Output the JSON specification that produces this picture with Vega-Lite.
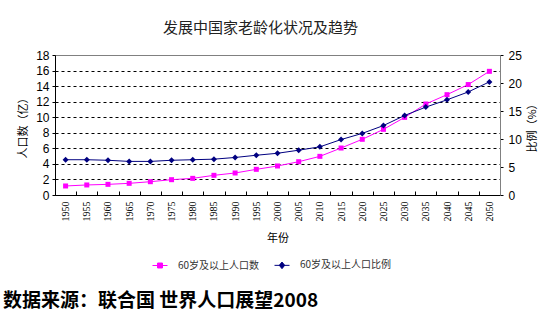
{
  "$schema": "https://vega.github.io/schema/vega-lite/v6.json",
  "width": 445,
  "height": 140,
  "autosize": {"type": "none"},
  "padding": {"left": 55, "top": 55, "right": 55, "bottom": 127},
  "background": "white",
  "config": {
    "view": {"stroke": "#808080", "strokeWidth": 1},
    "font": "Liberation Sans",
    "axis": {"labelColor": "#000", "titleColor": "#000", "domainColor": "#000", "tickColor": "#000", "titleFontWeight": "normal"}
  },
  "title": {
    "text": "数据来源：联合国 世界人口展望2008",
    "orient": "bottom",
    "anchor": "start",
    "frame": "group",
    "dx": -52,
    "offset": 21,
    "font": "Noto Sans CJK SC",
    "fontSize": 19,
    "fontWeight": "bold",
    "color": "#000"
  },
  "data": {
    "values": [
      {"year": "1950", "s": "60岁及以上人口数", "v": 1.16},
      {"year": "1955", "s": "60岁及以上人口数", "v": 1.29},
      {"year": "1960", "s": "60岁及以上人口数", "v": 1.37},
      {"year": "1965", "s": "60岁及以上人口数", "v": 1.5},
      {"year": "1970", "s": "60岁及以上人口数", "v": 1.71},
      {"year": "1975", "s": "60岁及以上人口数", "v": 1.97},
      {"year": "1980", "s": "60岁及以上人口数", "v": 2.14},
      {"year": "1985", "s": "60岁及以上人口数", "v": 2.53},
      {"year": "1990", "s": "60岁及以上人口数", "v": 2.83},
      {"year": "1995", "s": "60岁及以上人口数", "v": 3.3},
      {"year": "2000", "s": "60岁及以上人口数", "v": 3.73},
      {"year": "2005", "s": "60岁及以上人口数", "v": 4.28},
      {"year": "2010", "s": "60岁及以上人口数", "v": 4.97},
      {"year": "2015", "s": "60岁及以上人口数", "v": 6.04},
      {"year": "2020", "s": "60岁及以上人口数", "v": 7.16},
      {"year": "2025", "s": "60岁及以上人口数", "v": 8.44},
      {"year": "2030", "s": "60岁及以上人口数", "v": 9.98},
      {"year": "2035", "s": "60岁及以上人口数", "v": 11.7},
      {"year": "2040", "s": "60岁及以上人口数", "v": 12.9},
      {"year": "2045", "s": "60岁及以上人口数", "v": 14.2},
      {"year": "2050", "s": "60岁及以上人口数", "v": 15.9},
      {"year": "1950", "s": "60岁及以上人口比例", "v": 6.3},
      {"year": "1955", "s": "60岁及以上人口比例", "v": 6.3},
      {"year": "1960", "s": "60岁及以上人口比例", "v": 6.2},
      {"year": "1965", "s": "60岁及以上人口比例", "v": 6.0},
      {"year": "1970", "s": "60岁及以上人口比例", "v": 6.0},
      {"year": "1975", "s": "60岁及以上人口比例", "v": 6.2},
      {"year": "1980", "s": "60岁及以上人口比例", "v": 6.3},
      {"year": "1985", "s": "60岁及以上人口比例", "v": 6.4},
      {"year": "1990", "s": "60岁及以上人口比例", "v": 6.7},
      {"year": "1995", "s": "60岁及以上人口比例", "v": 7.1},
      {"year": "2000", "s": "60岁及以上人口比例", "v": 7.45},
      {"year": "2005", "s": "60岁及以上人口比例", "v": 8.0},
      {"year": "2010", "s": "60岁及以上人口比例", "v": 8.6},
      {"year": "2015", "s": "60岁及以上人口比例", "v": 9.9},
      {"year": "2020", "s": "60岁及以上人口比例", "v": 11.0},
      {"year": "2025", "s": "60岁及以上人口比例", "v": 12.4},
      {"year": "2030", "s": "60岁及以上人口比例", "v": 14.2},
      {"year": "2035", "s": "60岁及以上人口比例", "v": 15.7},
      {"year": "2040", "s": "60岁及以上人口比例", "v": 17.0},
      {"year": "2045", "s": "60岁及以上人口比例", "v": 18.4},
      {"year": "2050", "s": "60岁及以上人口比例", "v": 20.2}
    ]
  },
  "layer": [
    {
      "transform": [{"filter": "datum.s === '60岁及以上人口数'"}],
      "encoding": {
        "x": {
          "field": "year", "type": "ordinal", "sort": null,
          "axis": {
            "orient": "bottom",
            "title": "年份",
            "titleFont": "Noto Sans CJK SC",
            "titleFontSize": 11,
            "titlePadding": 11,
            "labelAngle": 270,
            "labelFont": "Liberation Serif",
            "labelFontSize": 10,
            "labelPadding": 10,
            "tickBand": "extent",
            "tickSize": -4,
            "grid": false
          }
        },
        "y": {
          "field": "v", "type": "quantitative",
          "scale": {"domain": [0, 18]},
          "axis": {
            "orient": "left",
            "values": [0, 2, 4, 6, 8, 10, 12, 14, 16, 18],
            "title": "人口数（亿）",
            "titleFont": "Noto Sans CJK SC",
            "titleFontSize": 11,
            "titlePadding": 7,
            "labelFontSize": 12,
            "labelPadding": 3,
            "tickSize": 3,
            "grid": true,
            "gridColor": "#000",
            "gridDash": [3, 3],
            "gridOpacity": {"condition": {"test": "datum.value == 0 || datum.value == 18", "value": 0}, "value": 1}
          }
        },
        "color": {
          "field": "s", "type": "nominal",
          "scale": {"domain": ["60岁及以上人口数", "60岁及以上人口比例"], "range": ["#FF00FF", "#000080"]},
          "legend": {
            "orient": "none",
            "legendX": 97,
            "legendY": 202,
            "direction": "horizontal",
            "title": null,
            "labelFont": "Noto Sans CJK SC",
            "labelFontSize": 10,
            "labelColor": "#333",
            "symbolSize": 225,
            "columnPadding": 12,
            "labelOffset": 10,
            "encode": {
              "symbols": {
                "update": {
                  "shape": [
                    {"test": "datum.value === '60岁及以上人口数'", "value": "M-1,0H1M-0.33,-0.33H0.33V0.33H-0.33Z"},
                    {"value": "M-1,0H1M0,-0.44L0.36,0L0,0.44L-0.36,0Z"}
                  ],
                  "fill": {"scale": "color", "field": "value"},
                  "stroke": {"scale": "color", "field": "value"},
                  "strokeWidth": {"value": 1},
                  "opacity": {"value": 1},
                  "size": {"value": 225}
                }
              }
            }
          }
        }
      },
      "layer": [
        {"mark": {"type": "line", "strokeWidth": 1}},
        {"mark": {"type": "point", "shape": "square", "filled": true, "size": 25, "opacity": 1}}
      ]
    },
    {
      "transform": [{"filter": "datum.s === '60岁及以上人口比例'"}],
      "encoding": {
        "x": {
          "field": "year", "type": "ordinal", "sort": null,
          "axis": {
            "orient": "top",
            "labels": false,
            "ticks": false,
            "domain": false,
            "grid": false,
            "title": "发展中国家老龄化状况及趋势",
            "titleFont": "Noto Sans CJK SC",
            "titleFontSize": 15,
            "titleColor": "#222",
            "titlePadding": 20,
            "titleX": 205
          }
        },
        "y": {
          "field": "v", "type": "quantitative",
          "scale": {"domain": [0, 25]},
          "axis": {
            "orient": "right",
            "values": [0, 5, 10, 15, 20, 25],
            "title": "比例（%）",
            "titleFont": "Noto Sans CJK SC",
            "titleFontSize": 11,
            "titleAngle": 270,
            "titlePadding": 16,
            "labelFontSize": 12,
            "labelPadding": 5,
            "tickSize": 3,
            "domainColor": "#808080",
            "grid": false
          }
        },
        "color": {"field": "s", "type": "nominal", "legend": null}
      },
      "layer": [
        {"mark": {"type": "line", "strokeWidth": 1}},
        {"mark": {"type": "point", "shape": "diamond", "filled": true, "size": 36, "opacity": 1}}
      ]
    }
  ],
  "resolve": {"scale": {"y": "independent"}, "axis": {"x": "independent", "y": "independent"}}
}
